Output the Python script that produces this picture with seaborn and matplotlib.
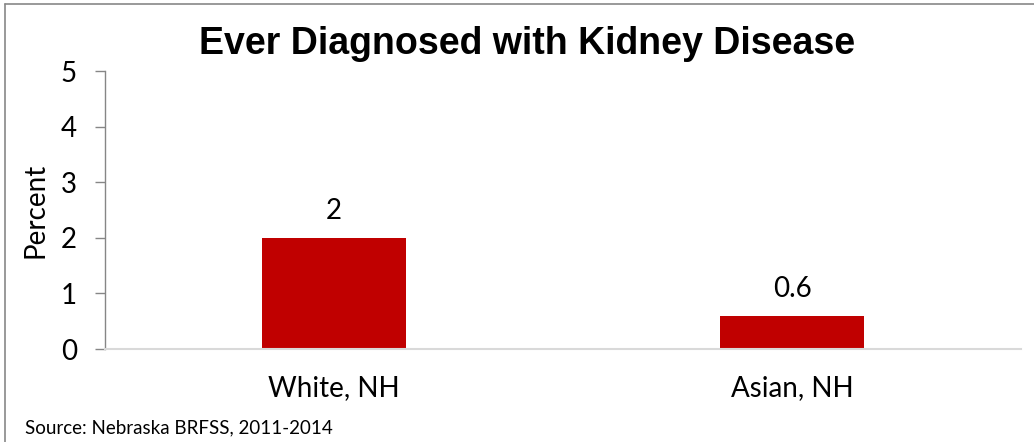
import matplotlib
matplotlib.use("Agg")
import matplotlib.pyplot as plt
from matplotlib.lines import Line2D
import seaborn as sns
import pandas as pd

categories = ["White, NH", "Asian, NH"]
values = [2, 0.6]
value_labels = ["2", "0.6"]
yticks = [0, 1, 2, 3, 4, 5]

sns.set_theme(style="white")
plt.rcParams['font.family'] = ['Lato', 'DejaVu Sans']
plt.rcParams['text.color'] = 'black'

df = pd.DataFrame({"cat": categories, "val": values})

fig = plt.figure(figsize=(10.34, 4.42), dpi=100)
ax = fig.add_axes([105/1034, 1-349/442, (1021-105)/1034, (349-71)/442])
sns.barplot(data=df, x="cat", y="val", color="#C00000", width=0.314, ax=ax,
            saturation=1, linewidth=0)

FS = 20
ax.set_xlim(-0.5, 1.5)
ax.set_ylim(0, 5)
ax.set_yticks(yticks)
ax.set_yticklabels([str(t) for t in yticks], fontsize=FS)
ax.tick_params(axis='y', direction='out', length=7.2, width=1, color='#868686', pad=13, left=True)
ax.tick_params(axis='x', length=0, pad=19, labelsize=FS)
for lbl in ax.get_xticklabels() + ax.get_yticklabels():
    lbl.set_color('black')

for s in ['top', 'right']:
    ax.spines[s].set_visible(False)
ax.spines['left'].set_color('#868686')
ax.spines['left'].set_linewidth(1)
ax.spines['bottom'].set_color('#D9D9D9')
ax.spines['bottom'].set_linewidth(1.5)

ax.set_xlabel("")
ax.set_ylabel("Percent", fontsize=FS, color='black', labelpad=9)

for i, (v, t) in enumerate(zip(values, value_labels)):
    ax.annotate(t, (i, v), xytext=(0, 10), textcoords='offset points',
                ha='center', va='bottom', fontsize=FS, color='black')

fig.text(527/1034, 1-44/442, "Ever Diagnosed with Kidney Disease",
         ha='center', va='center', fontsize=27, fontweight='bold', color='black',
         family=['Liberation Sans', 'DejaVu Sans'])
fig.text(25/1034, 1-433/442, "Source: Nebraska BRFSS, 2011-2014",
         ha='left', va='baseline', fontsize=13.5, color='black')

fig.add_artist(Line2D([5/1034, 5/1034], [0, 1-4/442], transform=fig.transFigure, color='#878787', lw=1.2))
fig.add_artist(Line2D([5/1034, 1], [1-4/442, 1-4/442], transform=fig.transFigure, color='#878787', lw=1.2))

fig.savefig("out.png", dpi=100)
